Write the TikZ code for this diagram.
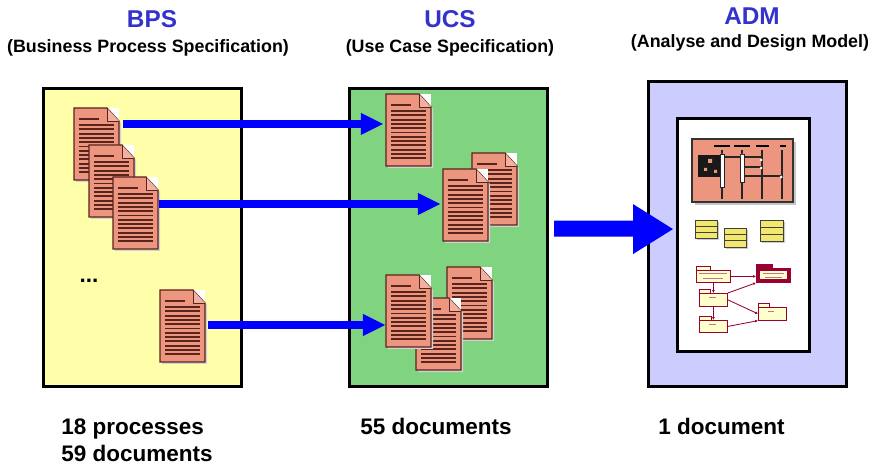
\documentclass[tikz,border=0pt]{standalone}
\usepackage{fontspec}
\setmainfont{Liberation Sans}
\usetikzlibrary{arrows.meta}
\definecolor{titleblue}{RGB}{51,51,204}
\definecolor{bpsyellow}{RGB}{255,255,170}
\definecolor{ucsgreen}{RGB}{128,212,128}
\definecolor{admlilac}{RGB}{204,204,255}
\definecolor{docsalmon}{RGB}{236,150,128}
\definecolor{docbrown}{RGB}{90,35,28}
\definecolor{classyellow}{RGB}{242,232,110}
\definecolor{pkgred}{RGB}{153,0,51}
\definecolor{pkgfill}{RGB}{255,255,204}
\definecolor{flowblue}{RGB}{0,0,255}
\begin{document}
\begin{tikzpicture}[x=0.025cm, y=-0.025cm,
          title/.style={anchor=base, inner sep=0, text=titleblue, font=\fontsize{17.3}{20}\selectfont\bfseries},
          subtitle/.style={anchor=base, inner sep=0, font=\fontsize{12.7}{15}\selectfont\bfseries},
          count/.style={anchor=base west, inner sep=0, font=\fontsize{16}{19}\selectfont\bfseries},
          frame/.style={draw, line width=2.2pt, anchor=north west, inner sep=0, minimum width=4.95cm},
          flow/.style={draw=flowblue, line width=0.22cm, -{Triangle[length=0.55cm, width=0.55cm, line width=0pt]}},
          classbox/.style={fill=classyellow, draw=black!75, line width=0.5pt},
          pkg/.style={draw=pkgred, fill=pkgfill, line width=0.6pt, anchor=north west, inner sep=0, minimum width=0.7cm, minimum height=0.32cm},
          pkgtab/.style={draw=pkgred, fill=pkgfill, line width=0.6pt},
          pkgarrow/.style={draw=pkgred, line width=0.6pt, -{Latex[length=2pt, width=2pt]}},
          docu/.pic={
            \fill[gray!35] (2,2) -- (35,2) -- (47,15) -- (47,74) -- (2,74) -- cycle;
            \fill[white] (33,0) rectangle (45,13);
            \filldraw[fill=docsalmon, draw=docbrown, line width=0.8pt] (0,0) -- (33,0) -- (45,13) -- (45,72) -- (0,72) -- cycle;
            \filldraw[fill=docsalmon!75!white, draw=docbrown, line width=0.6pt, line join=round] (33,0) -- (33,13) -- (45,13);
            \draw[docbrown, line width=1.4pt] (5,11) -- (25,11);
            \foreach \ly in {17,21.3,...,66} \draw[docbrown, line width=1.4pt] (5,\ly) -- (40,\ly);
            \node[anchor=north west, inner sep=0, minimum width=1.125cm, minimum height=1.8cm] (-page) at (0,0) {};
          }]
        \useasboundingbox (0,0) rectangle (875,465);

        % headings
        \node[title] (bpstitle) at (152,28) {BPS};
        \node[subtitle] (bpssub) at (148,53) {(Business Process Specification)};
        \node[title] (ucstitle) at (450,28) {UCS};
        \node[subtitle] (ucssub) at (450,53) {(Use Case Specification)};
        \node[title] (admtitle) at (752,25) {ADM};
        \node[subtitle] (admsub) at (750,48) {(Analyse and Design Model)};

        % the three model frames
        \node[frame, fill=bpsyellow, minimum height=7.45cm] (bps) at (42,87) {};
        \node[frame, fill=ucsgreen, minimum height=7.45cm] (ucs) at (348,87) {};
        \node[frame, fill=admlilac, minimum height=7.625cm] (adm) at (647,80) {};
        \node[frame, fill=white, minimum width=3.3cm, minimum height=5.825cm] (admin) at (676,117) {};

        % process documents
        \pic (b1) at (74,108) {docu};
        \pic (b2) at (89,145) {docu};
        \pic (b3) at (113,177) {docu};
        \pic (b4) at (160,290) {docu};
        \node[count, anchor=base] (more) at (89,283) {...};

        % use case documents
        \pic (u1) at (386,94) {docu};
        \pic (u2) at (472,153) {docu};
        \pic (u3) at (443,169) {docu};
        \pic (u4) at (447,267) {docu};
        \pic (u5) at (416,298) {docu};
        \pic (u6) at (386,275) {docu};

        \draw[flow] ([shift={(3,16)}]b1-page.north east) -- ([shift={(-3,30)}]u1-page.north west);
        \draw[flow] ([shift={(0,27)}]b3-page.north east) -- ([shift={(-3,35)}]u3-page.north west);
        \draw[flow] ([shift={(2,35)}]b4-page.north east) -- ([shift={(-1,50)}]u6-page.north west);

        % wide arrow into the design model
        \coordinate (bigtail) at ([shift={(5,-9)}]ucs.east);
        \coordinate (bigtip) at ([shift={(-3,-6)}]admin.west);
        \fill[flowblue] ([shift={(0,-8)}]bigtail) -- ([shift={(-40,-8.5)}]bigtip) -- ([shift={(-40,-25)}]bigtip)
          -- (bigtip) -- ([shift={(-40,25)}]bigtip) -- ([shift={(-40,7.5)}]bigtip) -- ([shift={(0,8)}]bigtail) -- cycle;

        % sequence diagram
        \fill[gray!45] (695,142) rectangle (796,205);
        \filldraw[fill=docsalmon, draw=black!80, line width=0.8pt] (692,139) rectangle (793,202);
        \foreach \xa/\xb in {714/730, 734/750, 756/769, 780/786}
          \draw[line width=1.8pt] (\xa,146) -- (\xb,146);
        \foreach \lx in {722,742,762,782}
          \draw[black!85, line width=1.1pt] (\lx,150) -- (\lx,199);
        \fill[black!90] (698,155) rectangle (720,177);
        \fill[docsalmon] (708,159) rectangle (712,163) (704,168) rectangle (707,171) (714,170) rectangle (717,173);
        \draw[black!85, line width=0.8pt] (722,157) -- (762,157) (742,167) -- (762,167) (742,176) -- (782,176);
        \filldraw[fill=white, draw=black!85, line width=0.5pt] (720,154) rectangle (724,187) (740,154) rectangle (744,182);
        \fill[white] (761,160) circle (1.5) (761,168) circle (1.5) (781,177) circle (1.5) (742,156) circle (1.5);

        % classes
        \fill[gray!40] (697,222) rectangle (719,240) (726,230) rectangle (748,249) (762,222) rectangle (785,243);
        \filldraw[classbox] (695,220) rectangle (717,238);
        \draw[black!75, line width=0.4pt] (695,226) -- (717,226) (695,232) -- (717,232);
        \filldraw[classbox] (724,228) rectangle (746,247);
        \draw[black!75, line width=0.4pt] (724,234) -- (746,234) (724,240) -- (746,240);
        \filldraw[classbox] (760,220) rectangle (783,241);
        \draw[black!75, line width=0.4pt] (760,227) -- (783,227) (760,234) -- (783,234);

        % packages
        \node[pkg, minimum width=0.85cm, minimum height=0.3cm] (p1) at (696,270) {};
        \filldraw[pkgtab] (p1.north west) rectangle ++(14,-4);
        \node[pkg, fill=pkgred, minimum width=0.85cm, minimum height=0.35cm] (p2) at (756,268) {};
        \fill[pkgred] (p2.north west) rectangle ++(17,-4);
        \fill[pkgfill] (760,271) rectangle (787,279);
        \node[pkg] (p3) at (699,293) {};
        \filldraw[pkgtab] (p3.north west) rectangle ++(11,-4);
        \node[pkg, minimum height=0.3cm] (p4) at (699,320) {};
        \filldraw[pkgtab] (p4.north west) rectangle ++(12,-4);
        \node[pkg] (p5) at (758,307) {};
        \filldraw[pkgtab] (p5.north west) rectangle ++(11,-4);
        \draw[pkgred!55, line width=0.3pt] (699,273.5) -- (727,273.5) (703,278) -- (723,278)
          (763,273.5) -- (784,273.5) (765,277) -- (782,277)
          (709,297) -- (716,297) (709,324) -- (716,324) (768,311) -- (774,311);
        \draw[pkgarrow] (p1.east) -- (p2.west |- p1.east);
        \draw[pkgarrow] (p1.south -| p3.north) -- (p3.north);
        \draw[pkgarrow] (p3.north east) -- (p2.south west);
        \draw[pkgarrow] (p3.east) -- (p5.west);
        \draw[pkgarrow] (p3.south) -- (p4.north);
        \draw[pkgarrow] (p4.east) -- (p5.south west);

        % totals
        \node[count] (bpsn) at (61,434) {18 processes};
        \node[count] (bpsd) at (61,461) {59 documents};
        \node[count] (ucsd) at (360,434) {55 documents};
        \node[count] (admd) at (658,434) {1 document};
      \end{tikzpicture}
\end{document}
